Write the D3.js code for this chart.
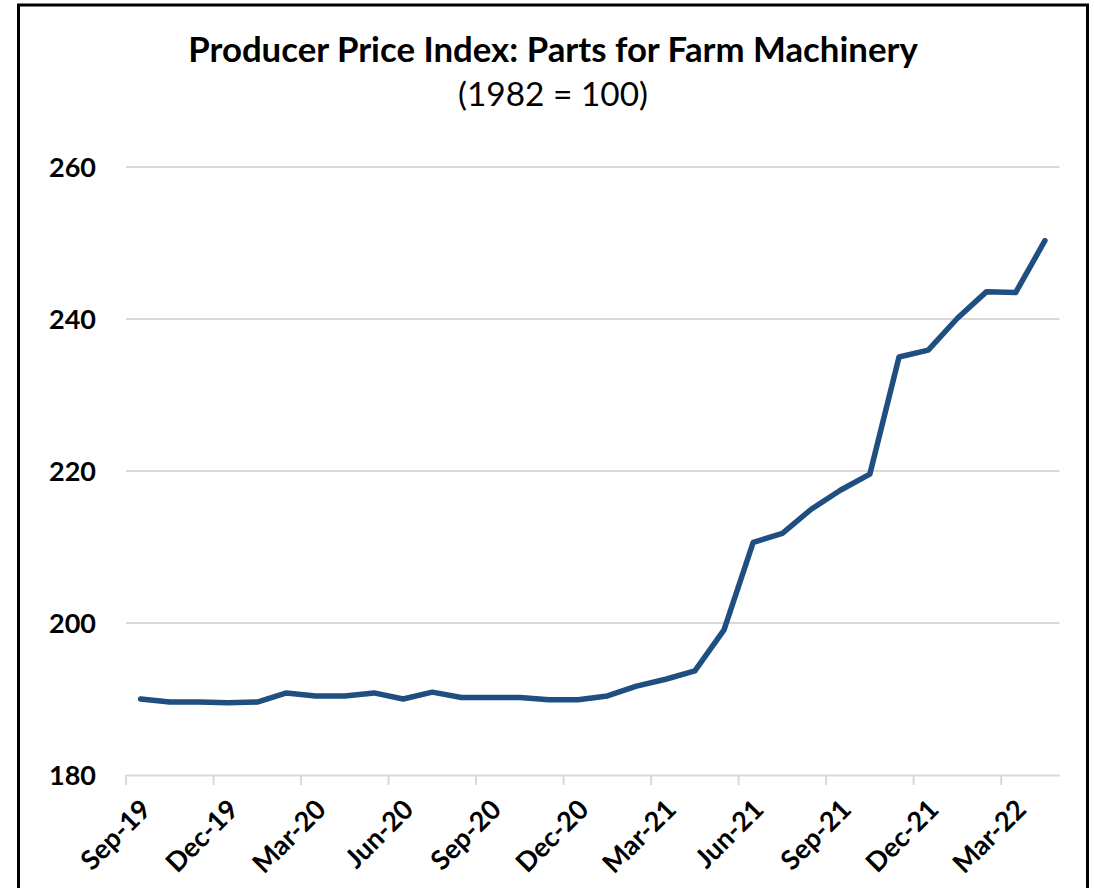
<!DOCTYPE html>
<html>
<head>
<meta charset="utf-8">
<script src="https://cdn.jsdelivr.net/npm/d3@7"></script>
<style>
  html, body { margin: 0; padding: 0; background: #fff; }
  svg { display: block; }
</style>
</head>
<body>
<svg id="chart"></svg>
<script>
// monthly categories, Sep-19 .. Apr-22
const months = ["Sep-19","Oct-19","Nov-19","Dec-19","Jan-20","Feb-20","Mar-20","Apr-20","May-20","Jun-20",
  "Jul-20","Aug-20","Sep-20","Oct-20","Nov-20","Dec-20","Jan-21","Feb-21","Mar-21","Apr-21",
  "May-21","Jun-21","Jul-21","Aug-21","Sep-21","Oct-21","Nov-21","Dec-21","Jan-22","Feb-22",
  "Mar-22","Apr-22"]
const ppi = [190.0, 189.6, 189.6, 189.5, 189.6, 190.8, 190.4, 190.4, 190.8, 190.0,
  190.9, 190.2, 190.2, 190.2, 189.9, 189.9, 190.4, 191.7, 192.6, 193.7,
  199.1, 210.6, 211.8, 215.0, 217.5, 219.6, 235.0, 235.9, 240.1, 243.6,
  243.5, 250.3]
const yTicks = [180, 200, 220, 240, 260]
const xTickLabels = months.filter((d, i) => i % 3 == 0)

let width = 1094
let height = 888
const data = months.map((m, i) => ({month: m, value: ppi[i]}))

const svg = d3.select("#chart")
    .attr("width", width)
    .attr("height", height)
    .attr("font-family", "Lato, 'Open Sans', sans-serif");

// frame
svg.append("rect")
    .attr("x", 18.5).attr("y", 5)
    .attr("width", 1069).attr("height", 900)
    .attr("fill", "none")
    .attr("stroke", "#000")
    .attr("stroke-width", 3);

const x = d3.scaleBand().domain(months).range([126, 1059.5]).padding(0)
const y = d3.scaleLinear().domain([180, 260]).range([775, 167])

// grid
svg.append("g")
  .selectAll("line")
  .data(yTicks.slice(1))
  .join("line")
    .attr("x1", 126).attr("x2", 1059.5)
    .attr("y1", d => y(d)).attr("y2", d => y(d))
    .attr("stroke", "#d9d9d9")
    .attr("stroke-width", 2);

// y labels
svg.append("g")
  .selectAll("text")
  .data(yTicks)
  .join("text")
    .attr("x", 96)
    .attr("y", d => y(d))
    .attr("dy", "0.36em")
    .attr("text-anchor", "end")
    .attr("font-size", 27)
    .attr("font-weight", "bold")
    .text(d => d);

// x axis, ticks sit on category boundaries
const xAxis = svg.append("g")
    .attr("transform", `translate(0,${y(180)})`)
    .call(d3.axisBottom(x).tickValues(xTickLabels).tickSize(10).tickSizeOuter(0).tickPadding(0));
xAxis.select(".domain").attr("stroke", "#d9d9d9").attr("stroke-width", 2);
xAxis.selectAll(".tick line")
    .attr("x1", -x.bandwidth() / 2).attr("x2", -x.bandwidth() / 2)
    .attr("stroke", "#d9d9d9").attr("stroke-width", 2);
xAxis.selectAll(".tick text")
    .attr("font-family", "Lato, 'Open Sans', sans-serif")
    .attr("font-size", 27)
    .attr("font-weight", "bold")
    .attr("fill", "#000")
    .attr("text-anchor", "end")
    .attr("dy", null)
    .attr("transform", "translate(5,29) rotate(-45)");

// line
const line = d3.line()
    .x(d => x(d.month) + x.bandwidth() / 2)
    .y(d => y(d.value))

svg.append("path")
    .datum(data)
    .attr("fill", "none")
    .attr("stroke", "#1f4e80")
    .attr("stroke-width", 5.5)
    .attr("stroke-linejoin", "round")
    .attr("stroke-linecap", "round")
    .attr("d", line);

// titles
const title = svg.append("text")
    .attr("x", 553).attr("y", 62)
    .attr("text-anchor", "middle")
    .attr("font-size", 30)
    .attr("font-weight", "bold")
    .text("Producer Price Index: Parts for Farm Machinery");
let w = title.node().getComputedTextLength()
title.attr("font-size", 30 * 730 / w)

const sub = svg.append("text")
    .attr("x", 553).attr("y", 106)
    .attr("text-anchor", "middle")
    .attr("font-size", 30)
    .text("(1982 = 100)");
w = sub.node().getComputedTextLength()
sub.attr("font-size", 30 * 190 / w)
</script>
</body>
</html>
